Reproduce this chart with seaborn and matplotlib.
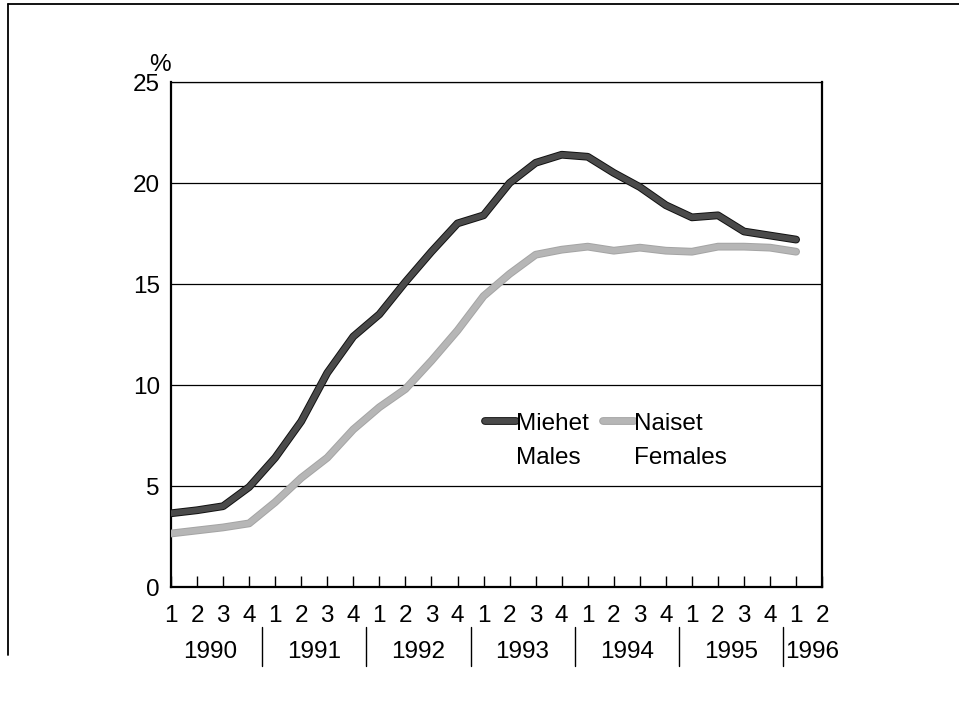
"""
Työttömyysaste sukupuolen mukaan 1990-1996, neljännesvuosittain
"""

import matplotlib

matplotlib.use("Agg")
import matplotlib.patheffects as pe
import matplotlib.pyplot as plt
import matplotlib.transforms as mtransforms
import pandas as pd
import seaborn as sns
from matplotlib.lines import Line2D

# ─── Data ─────────────────────────────────────────────────────────
quarter_labels = ["1", "2", "3", "4"] * 6 + ["1", "2"]
years = ["1990", "1991", "1992", "1993", "1994", "1995", "1996"]

# 1990Q1 ... 1996Q1
males = [
    3.65, 3.8, 4.0, 4.95,
    6.4, 8.2, 10.6, 12.4,
    13.5, 15.1, 16.6, 18.0,
    18.4, 20.0, 21.0, 21.4,
    21.3, 20.5, 19.8, 18.9,
    18.3, 18.4, 17.6, 17.4,
    17.2,
]
females = [
    2.65, 2.8, 2.95, 3.15,
    4.2, 5.4, 6.4, 7.8,
    8.9, 9.8, 11.2, 12.7,
    14.4, 15.5, 16.45, 16.7,
    16.85, 16.65, 16.8, 16.65,
    16.6, 16.85, 16.85, 16.8,
    16.6,
]
y_ticks = [0, 5, 10, 15, 20, 25]

df = pd.concat(
    [
        pd.DataFrame({"q": range(len(males)), "value": males, "series": "Miehet"}),
        pd.DataFrame({"q": range(len(females)), "value": females, "series": "Naiset"}),
    ],
    ignore_index=True,
)

PALETTE = {"Miehet": "#4a4a4a", "Naiset": "#b6b6b6"}

# ─── Figure ───────────────────────────────────────────────────────
sns.set_theme(style="white")
plt.rcParams["font.family"] = ["Liberation Sans", "DejaVu Sans"]
plt.rcParams["text.color"] = "black"
plt.rcParams["xtick.color"] = "black"
plt.rcParams["ytick.color"] = "black"
FS = 17.5

fig = plt.figure(figsize=(9.59, 7.01), dpi=100, facecolor="white")
ax = fig.add_axes([0.1783, 0.1626, 0.679, 0.7204])

sns.lineplot(
    data=df,
    x="q",
    y="value",
    hue="series",
    palette=PALETTE,
    linewidth=4.2,
    legend=False,
    ax=ax,
    zorder=3,
)
ax.lines[0].set_path_effects([pe.Stroke(linewidth=5.6, foreground="#111111"), pe.Normal()])
ax.lines[1].set_path_effects([pe.Stroke(linewidth=5.6, foreground="#a4a4a4"), pe.Normal()])

ax.set_xlim(0, 25)
ax.set_ylim(0, 25)
ax.set_xticks(range(len(quarter_labels)))
ax.set_xticklabels(quarter_labels, fontsize=FS)
ax.set_yticks(y_ticks)
ax.set_yticklabels([str(v) for v in y_ticks], fontsize=FS)
ax.tick_params(axis="x", direction="in", length=8, width=1, color="black", pad=13,
               bottom=True, labelcolor="black")
ax.tick_params(axis="y", length=0, pad=8, labelcolor="black")
ax.set_xlabel("")
ax.set_ylabel("")

ax.grid(axis="y", color="black", linewidth=0.9)
ax.grid(axis="x", visible=False)
for side in ["left", "bottom", "right"]:
    ax.spines[side].set_linewidth(1.6)
    ax.spines[side].set_color("black")
ax.spines["top"].set_linewidth(0.9)
ax.spines["top"].set_color("black")

ax.text(-0.034, 1.034, "%", transform=ax.transAxes, ha="left", va="center", fontsize=FS)

# vuosirivi x-akselin alle
trans = mtransforms.blended_transform_factory(ax.transData, ax.transAxes)
for i, yr in enumerate(years[:-1]):
    ax.text(4 * i + 1.5, -0.129, yr, transform=trans, ha="center", va="center", fontsize=FS)
ax.text(23.56, -0.129, years[-1], transform=trans, ha="left", va="center", fontsize=FS)
for i in range(len(years) - 1):
    ax.plot([4 * i + 3.5] * 2, [-0.08, -0.157], transform=trans, color="black",
            linewidth=1.0, clip_on=False)

# ─── Selite ───────────────────────────────────────────────────────
h_m = Line2D([], [], color=PALETTE["Miehet"], linewidth=4.2,
             path_effects=[pe.Stroke(linewidth=5.6, foreground="#111111"), pe.Normal()])
h_f = Line2D([], [], color=PALETTE["Naiset"], linewidth=4.2,
             path_effects=[pe.Stroke(linewidth=5.6, foreground="#a4a4a4"), pe.Normal()])
blank = Line2D([], [], color="none")
ax.legend(
    [h_m, blank, h_f, blank],
    ["Miehet", "Males", "Naiset", "Females"],
    ncol=2,
    frameon=False,
    loc="upper left",
    bbox_to_anchor=(0.482, 0.345),
    borderaxespad=0,
    borderpad=0,
    handlelength=1.3,
    handletextpad=0.0,
    columnspacing=0.55,
    labelspacing=0.5,
    fontsize=FS,
)

# kehys
fig.add_artist(Line2D([0.008, 1.0], [0.994, 0.994], transform=fig.transFigure,
                      color="black", linewidth=1.3))
fig.add_artist(Line2D([0.008, 0.008], [0.066, 0.994], transform=fig.transFigure,
                      color="black", linewidth=1.3))

fig.savefig("out.png", dpi=100, facecolor="white")
